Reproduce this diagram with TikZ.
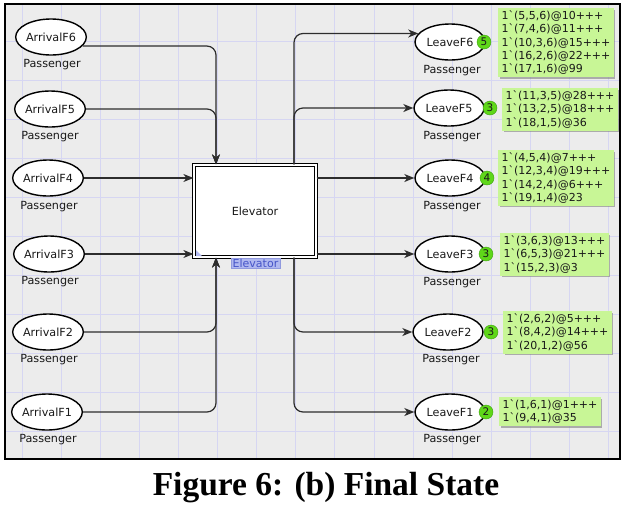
\documentclass[tikz,border=0pt]{standalone}
\usepackage{fontspec}
\newfontfamily\dv{DejaVu Sans}
\newfontfamily\capfont{Liberation Serif}
\usetikzlibrary{shapes.geometric,arrows.meta,shadows}
\definecolor{bgc}{RGB}{236,236,236}
\definecolor{gridc}{RGB}{214,214,242}
\definecolor{tokfill}{RGB}{200,246,150}
\definecolor{cntfill}{RGB}{95,215,25}
\definecolor{cntdraw}{RGB}{60,160,15}
\definecolor{arcc}{RGB}{45,45,45}
\definecolor{txtc}{RGB}{25,25,25}
\definecolor{lblfill}{RGB}{176,184,240}
\definecolor{lbltxt}{RGB}{70,85,200}
\tikzset{
  place/.style={ellipse, draw=black, line width=1.4pt, fill=white, minimum width=70pt, minimum height=36pt, inner sep=0pt, font=\dv\fontsize{11.2}{13}\selectfont, text=txtc},
  typelbl/.style={font=\dv\fontsize{11.2}{13}\selectfont, text=txtc, inner sep=0pt},
  arcline/.style={draw=arcc, line width=1.2pt, rounded corners=9pt},
  tip/.style={-{Stealth[length=10pt,width=8pt,inset=3pt]}},
  cnt/.style={circle, fill=cntfill, draw=cntdraw, line width=0.4pt, minimum size=14pt, inner sep=0pt, font=\dv\fontsize{10.5}{12}\selectfont, text=txtc},
  tokens/.style={anchor=north west, fill=tokfill, align=left, inner xsep=3.5pt, inner ysep=2.5pt, font=\dv\fontsize{11}{13.3}\selectfont, text=txtc, drop shadow={shadow xshift=1.5pt, shadow yshift=-1.5pt, fill=black!50, opacity=0.6}}
}
\newcommand{\bq}{\char96}
\begin{document}
\begin{tikzpicture}[x=1pt,y=-1pt]
\useasboundingbox (0,0) rectangle (626,507);
\fill[white] (0,0) rectangle (626,507);
% frame background and grid
\fill[bgc] (5,4) rectangle (620,459);
\begin{scope}
\clip (5,4) rectangle (620,459);
\foreach \gx in {0,...,15} { \draw[gridc, line width=0.8pt] (22+39.1*\gx,4) -- (22+39.1*\gx,459); }
\foreach \gy in {0,...,10} { \draw[gridc, line width=0.8pt] (5,41+39*\gy) -- (620,41+39*\gy); }
\end{scope}
\draw[black, line width=2.6pt] (5,4) rectangle (620,459);

% transition
\node[draw=black, double=white, double distance=1.6pt, line width=1.2pt, fill=white, minimum width=122pt, minimum height=92pt, inner sep=0pt, font=\dv\fontsize{11.2}{13}\selectfont, text=txtc] (elev) at (255,211) {Elevator};
\fill[lblfill] (196,250) -- (196,256) -- (202,256) -- cycle;
\node[fill=lblfill, draw=lbltxt!60, line width=0.4pt, inner xsep=1.5pt, inner ysep=0.5pt, font=\dv\fontsize{11}{12}\selectfont, text=lbltxt] (elevname) at (255.5,263) {Elevator};

% arrival places
\node[place] (A6) at (51,37) {ArrivalF6};
\node[place] (A5) at (50,109) {ArrivalF5};
\node[place] (A4) at (48,178) {ArrivalF4};
\node[place] (A3) at (49,254) {ArrivalF3};
\node[place] (A2) at (48,332) {ArrivalF2};
\node[place] (A1) at (47,412) {ArrivalF1};
\node[typelbl] (tA6) at (52,65) {Passenger};
\node[typelbl] (tA5) at (50,137) {Passenger};
\node[typelbl] (tA4) at (49,207) {Passenger};
\node[typelbl] (tA3) at (50,282) {Passenger};
\node[typelbl] (tA2) at (49,360) {Passenger};
\node[typelbl] (tA1) at (48,440) {Passenger};

% leave places
\node[place] (L6) at (450,42) {LeaveF6};
\node[place] (L5) at (449,108) {LeaveF5};
\node[place] (L4) at (450,178) {LeaveF4};
\node[place] (L3) at (450,254) {LeaveF3};
\node[place] (L2) at (448,332) {LeaveF2};
\node[place] (L1) at (450,412) {LeaveF1};
\node[typelbl] (tL6) at (452,71) {Passenger};
\node[typelbl] (tL5) at (452,137) {Passenger};
\node[typelbl] (tL4) at (452,207) {Passenger};
\node[typelbl] (tL3) at (452,283) {Passenger};
\node[typelbl] (tL2) at (451,360) {Passenger};
\node[typelbl] (tL1) at (452,440) {Passenger};

% input arcs
\draw[arcline,tip] (A6.-16) -| (216,0 |- elev.north);
\draw[arcline,tip] (A5.east) -| (216,0 |- elev.north);
\draw[arcline,tip] (A4.east) -- (A4.east -| elev.west);
\draw[arcline,tip] (A3.east) -- (A3.east -| elev.west);
\draw[arcline,tip] (A2.east) -| (216,0 |- elev.south);
\draw[arcline,tip] (A1.east) -| (216,0 |- elev.south);

% output arcs
\draw[arcline,tip] (294,0 |- elev.north) |- (L6.165);
\draw[arcline,tip] (294,0 |- elev.north) |- (L5.west);
\draw[arcline,tip] (elev.east |- L4.west) -- (L4.west);
\draw[arcline,tip] (elev.east |- L3.west) -- (L3.west);
\draw[arcline,tip] (294,0 |- elev.south) |- (L2.west);
\draw[arcline,tip] (294,0 |- elev.south) |- (L1.west);

% token counts
\node[cnt] (c6) at (484,42) {5};
\node[cnt] (c5) at (490,108) {3};
\node[cnt] (c4) at (487,178) {4};
\node[cnt] (c3) at (486,254) {3};
\node[cnt] (c2) at (491,332) {3};
\node[cnt] (c1) at (486,412) {2};

% markings
\node[tokens] (m6) at (498,8) {1\bq(5,5,6)@10+++\\1\bq(7,4,6)@11+++\\1\bq(10,3,6)@15+++\\1\bq(16,2,6)@22+++\\1\bq(17,1,6)@99};
\node[tokens] (m5) at (502,88) {1\bq(11,3,5)@28+++\\1\bq(13,2,5)@18+++\\1\bq(18,1,5)@36};
\node[tokens] (m4) at (498,150) {1\bq(4,5,4)@7+++\\1\bq(12,3,4)@19+++\\1\bq(14,2,4)@6+++\\1\bq(19,1,4)@23};
\node[tokens] (m3) at (500,233) {1\bq(3,6,3)@13+++\\1\bq(6,5,3)@21+++\\1\bq(15,2,3)@3};
\node[tokens] (m2) at (503,311) {1\bq(2,6,2)@5+++\\1\bq(8,4,2)@14+++\\1\bq(20,1,2)@56};
\node[tokens] (m1) at (499,397) {1\bq(1,6,1)@1+++\\1\bq(9,4,1)@35};

% caption
\node[anchor=base, inner sep=0pt, font=\capfont\bfseries\fontsize{33.5}{38}\selectfont] (cap) at (326,495) {Figure 6: (b) Final State};
\end{tikzpicture}
\end{document}
